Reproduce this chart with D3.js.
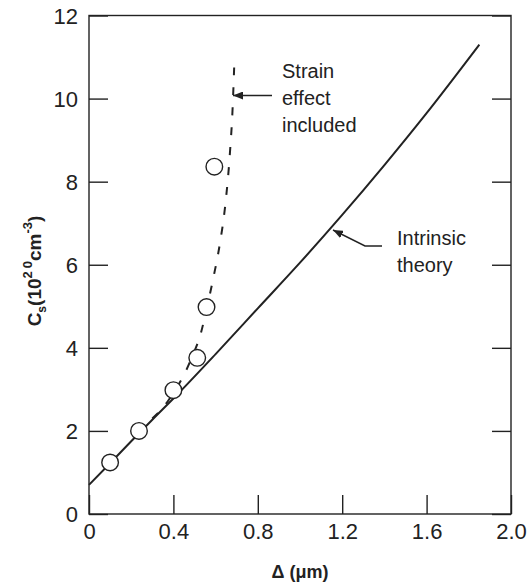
<!DOCTYPE html>
<html>
<head>
<meta charset="utf-8">
<script src="https://cdn.jsdelivr.net/npm/d3@7"></script>
<style>
  body { margin: 0; background: #fff; }
  svg text { font-family: "Liberation Sans", Arial, sans-serif; fill: #222; }
</style>
</head>
<body>
<svg id="chart" width="528" height="587"></svg>
<script>
// measured points (open circles)
const pointX = [0.10, 0.237, 0.40, 0.513, 0.557, 0.594];
const pointY = [1.24, 2.0, 2.98, 3.76, 4.98, 8.36];

// intrinsic theory (solid)
const intrinsicX = [0, 0.1, 0.2, 0.3, 0.4, 0.6, 0.8, 1.0, 1.2, 1.4, 1.6, 1.85];
const intrinsicY = [0.70, 1.22, 1.75, 2.27, 2.78, 3.85, 4.95, 6.05, 7.2, 8.4, 9.65, 11.3];

// strain effect included (dashed)
const strainX = [0.30, 0.36, 0.40, 0.45, 0.49, 0.53, 0.56, 0.59, 0.62, 0.645, 0.668, 0.68, 0.688];
const strainY = [2.30, 2.62, 2.92, 3.35, 3.80, 4.35, 5.0, 5.7, 6.5, 7.4, 8.7, 9.7, 10.75];

const xTicks = [0, 0.4, 0.8, 1.2, 1.6, 2.0];
const xTickLabels = ["0", "0.4", "0.8", "1.2", "1.6", "2.0"];
const yTicks = [0, 2, 4, 6, 8, 10, 12];

const svg = d3.select("#chart");
const ink = "#222";

const x = d3.scaleLinear().domain([0, 2]).range([89, 511]);
const y = d3.scaleLinear().domain([0, 12]).range([514, 15.5]);

// axes: ticks pointing inward
svg.append("g")
  .attr("transform", `translate(0,${y(0)})`)
  .call(d3.axisBottom(x).tickValues(xTicks).tickSize(-19).tickPadding(9)
    .tickFormat((d, i) => xTickLabels[i]))
  .call(g => g.select(".domain").remove())
  .call(g => g.selectAll("line").attr("stroke", ink).attr("stroke-width", 1.4))
  .call(g => g.selectAll("text").attr("font-size", 22).attr("fill", ink)
    .attr("font-family", "Liberation Sans, Arial, sans-serif"));

svg.append("g")
  .attr("transform", `translate(${x(0)},0)`)
  .call(d3.axisLeft(y).tickValues(yTicks).tickSize(-19).tickPadding(11))
  .call(g => g.select(".domain").remove())
  .call(g => g.selectAll("line").attr("stroke", ink).attr("stroke-width", 1.4))
  .call(g => g.selectAll("text").attr("font-size", 22).attr("fill", ink)
    .attr("dy", "0.36em").attr("font-family", "Liberation Sans, Arial, sans-serif"));

svg.append("g")
  .attr("transform", `translate(${x(2)},0)`)
  .call(d3.axisRight(y).tickValues(yTicks).tickSize(-19).tickFormat(""))
  .call(g => g.select(".domain").remove())
  .call(g => g.selectAll("line").attr("stroke", ink).attr("stroke-width", 1.4));

// frame
svg.append("rect")
  .attr("x", x(0)).attr("y", y(12))
  .attr("width", x(2) - x(0)).attr("height", y(0) - y(12))
  .attr("fill", "none").attr("stroke", ink).attr("stroke-width", 1.4);

// curves
const line = d3.line().x(d => x(d[0])).y(d => y(d[1])).curve(d3.curveMonotoneX);

svg.append("path")
  .attr("d", line(intrinsicX.map((v, i) => [v, intrinsicY[i]])))
  .attr("fill", "none").attr("stroke", ink).attr("stroke-width", 2);

svg.append("path")
  .attr("d", line(strainX.map((v, i) => [v, strainY[i]])))
  .attr("fill", "none").attr("stroke", ink).attr("stroke-width", 2)
  .attr("stroke-dasharray", "8,12");

// points
svg.append("g")
  .selectAll("circle")
  .data(pointX.map((v, i) => [v, pointY[i]]))
  .join("circle")
  .attr("cx", d => x(d[0]))
  .attr("cy", d => y(d[1]))
  .attr("r", 8.3)
  .attr("fill", "#fff")
  .attr("stroke", ink)
  .attr("stroke-width", 1.4);

// arrowhead marker
svg.append("defs").append("marker")
  .attr("id", "arrow")
  .attr("viewBox", "0 0 10 8")
  .attr("refX", 10).attr("refY", 4)
  .attr("markerWidth", 10).attr("markerHeight", 8)
  .attr("markerUnits", "userSpaceOnUse")
  .attr("orient", "auto")
  .append("path").attr("d", "M0,0L10,4L0,8Z").attr("fill", ink);

// annotation: strain effect
svg.append("line")
  .attr("x1", 272).attr("y1", 95.5).attr("x2", 233).attr("y2", 95.5)
  .attr("stroke", ink).attr("stroke-width", 1.4)
  .attr("marker-end", "url(#arrow)");

const strainText = svg.append("text").attr("font-size", 20);
["Strain", "effect", "included"].forEach((t, i) => {
  strainText.append("tspan").attr("x", 282).attr("y", 78 + i * 27).text(t);
});

// annotation: intrinsic theory
svg.append("path")
  .attr("d", "M382,246L365,246L333,230")
  .attr("fill", "none").attr("stroke", ink).attr("stroke-width", 1.4)
  .attr("marker-end", "url(#arrow)");

const intrText = svg.append("text").attr("font-size", 20);
["Intrinsic", "theory"].forEach((t, i) => {
  intrText.append("tspan").attr("x", 397).attr("y", 245 + i * 27).text(t);
});

// axis titles
svg.append("text")
  .attr("x", 300).attr("y", 578)
  .attr("text-anchor", "middle")
  .attr("font-size", 18).attr("font-weight", "bold")
  .text("\u0394 (\u03bcm)");

const yTitle = svg.append("text")
  .attr("transform", "translate(41,271) rotate(-90)")
  .attr("text-anchor", "middle")
  .attr("font-size", 19).attr("font-weight", "bold");
yTitle.append("tspan").text("C");
yTitle.append("tspan").attr("font-size", 12).attr("dy", 5).text("s");
yTitle.append("tspan").attr("dy", -5).text("(10");
yTitle.append("tspan").attr("font-size", 13).attr("dy", -9).text("2");
yTitle.append("tspan").attr("font-size", 13).attr("dx", 3).text("0");
yTitle.append("tspan").attr("dy", 9).text("cm");
yTitle.append("tspan").attr("font-size", 13).attr("dy", -9).text("-3");
yTitle.append("tspan").attr("dy", 9).text(")");
</script>
</body>
</html>
